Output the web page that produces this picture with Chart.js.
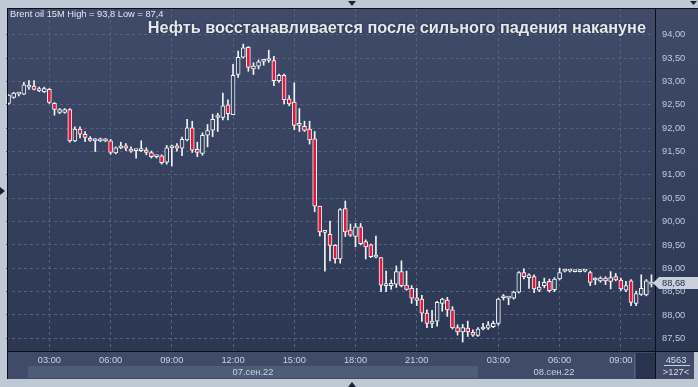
<!DOCTYPE html>
<html>
<head>
<meta charset="utf-8">
<script src="https://cdn.jsdelivr.net/npm/chart.js@4/dist/chart.umd.min.js"></script>
<style>
  html, body { margin: 0; padding: 0; background: #bfc8d5; }
  #wrap { position: relative; width: 698px; height: 387px; overflow: hidden; }
  canvas { position: absolute; left: 0; top: 0; }
  .txt { position: absolute; font-family: "Liberation Sans", Arial, sans-serif; white-space: nowrap; }
  #title { right: 52px; top: 20px; font-size: 16.3px; font-weight: bold; color: #e6e8ec; line-height: 15px;
           text-shadow: 0 0 2px #1e2638; }
  #info { left: 10px; top: 9px; font-size: 9.3px; color: #e2e8f2; line-height: 10px; }
  .day { font-size: 9.3px; color: #c8d3e4; line-height: 10px; transform: translateX(-50%); }
  .cnt { font-size: 9.3px; color: #d6deea; line-height: 10px; transform: translateX(-50%); }
</style>
</head>
<body>
<div id="wrap">
  <canvas id="candleChart" width="698" height="387"></canvas>
  <div class="txt" id="info">Brent oil 15M High = 93,8 Low = 87,4</div>
  <div class="txt" id="title">Нефть восстанавливается после сильного падения накануне</div>
  <div class="txt day" style="left:253px; top:367px;">07.сен.22</div>
  <div class="txt day" style="left:554px; top:367px;">08.сен.22</div>
  <div class="txt cnt" style="left:676px; top:355px;">4563</div>
  <div class="txt cnt" style="left:676px; top:367px;">&gt;127&lt;</div>
</div>
<script>
// 15-minute bars, 07.09 01:00 .. 08.09 10:30
const times = [
  '01:00','01:15','01:30','01:45','02:00','02:15','02:30','02:45','03:00','03:15','03:30','03:45',
  '04:00','04:15','04:30','04:45','05:00','05:15','05:30','05:45','06:00','06:15','06:30','06:45',
  '07:00','07:15','07:30','07:45','08:00','08:15','08:30','08:45','09:00','09:15','09:30','09:45',
  '10:00','10:15','10:30','10:45','11:00','11:15','11:30','11:45','12:00','12:15','12:30','12:45',
  '13:00','13:15','13:30','13:45','14:00','14:15','14:30','14:45','15:00','15:15','15:30','15:45',
  '16:00','16:15','16:30','16:45','17:00','17:15','17:30','17:45','18:00','18:15','18:30','18:45',
  '19:00','19:15','19:30','19:45','20:00','20:15','20:30','20:45','21:00','21:15','21:30','21:45',
  '22:00','22:15','22:30','22:45',
  '01:00','01:15','01:30','01:45','02:00','02:15','02:30','02:45','03:00','03:15','03:30','03:45',
  '04:00','04:15','04:30','04:45','05:00','05:15','05:30','05:45','06:00','06:15','06:30','06:45',
  '07:00','07:15','07:30','07:45','08:00','08:15','08:30','08:45','09:00','09:15','09:30','09:45',
  '10:00','10:15','10:30'
];

const opens = [
  92.53, 92.66, 92.73, 92.73, 92.88, 92.90, 92.80, 92.78, 92.83, 92.53, 92.34, 92.34,
  92.40, 91.73, 91.98, 91.87, 91.78, 91.73, 91.73, 91.73, 91.73, 91.47, 91.58, 91.62,
  91.55, 91.52, 91.52, 91.53, 91.48, 91.39, 91.41, 91.27, 91.58, 91.62, 91.57, 91.75,
  92.01, 91.55, 91.46, 91.85, 91.96, 92.23, 92.23, 92.50, 92.29, 93.15, 93.52, 93.73,
  93.27, 93.33, 93.43, 93.45, 93.45, 93.02, 93.13, 92.63, 92.56, 92.06, 92.04, 91.98,
  91.77, 90.33, 89.77, 89.73, 89.49, 89.20, 90.28, 89.82, 89.68, 89.89, 89.57, 89.50,
  89.24, 89.23, 88.63, 88.63, 88.66, 88.93, 88.64, 88.57, 88.37, 88.34, 88.04, 87.82,
  87.87, 88.25, 88.32, 88.11,
  87.73, 87.64, 87.72, 87.63, 87.56, 87.70, 87.72, 87.75, 87.82, 88.37, 88.36, 88.36,
  88.49, 88.91, 88.80, 88.82, 88.53, 88.63, 88.72, 88.54, 88.77, 88.94, 88.94, 88.93,
  88.93, 88.94, 88.91, 88.75, 88.73, 88.79, 88.72, 88.82, 88.75, 88.53, 88.73, 88.25,
  88.44, 88.43, 88.66
];
const highs = [
  92.72, 92.77, 92.75, 92.98, 93.02, 93.02, 92.88, 92.88, 92.85, 92.55, 92.42, 92.42,
  92.42, 92.03, 92.03, 91.93, 91.82, 91.78, 91.79, 91.78, 91.76, 91.60, 91.70, 91.67,
  91.60, 91.53, 91.73, 91.58, 91.51, 91.41, 91.43, 91.63, 91.64, 91.67, 91.81, 92.19,
  92.15, 91.70, 91.90, 92.08, 92.30, 92.32, 92.75, 92.61, 93.37, 93.65, 93.80, 93.75,
  93.40, 93.46, 93.45, 93.67, 93.54, 93.16, 93.16, 92.70, 92.97, 92.42, 92.15, 92.15,
  91.93, 90.33, 89.77, 90.01, 89.51, 90.28, 90.44, 89.95, 89.96, 89.96, 89.61, 89.52,
  89.69, 89.23, 88.94, 88.75, 89.05, 89.16, 88.94, 88.63, 88.57, 88.42, 88.11, 88.10,
  88.29, 88.36, 88.38, 88.18,
  87.79, 87.80, 87.87, 87.68, 87.73, 87.82, 87.86, 87.87, 88.36, 88.44, 88.37, 88.51,
  88.93, 88.99, 88.88, 88.86, 88.72, 88.79, 88.77, 88.80, 89.00, 88.96, 88.95, 88.95,
  88.97, 88.96, 88.94, 88.80, 88.82, 88.82, 88.93, 88.89, 88.79, 88.72, 88.76, 88.51,
  88.86, 88.76, 88.86
];
const lows = [
  92.51, 92.64, 92.69, 92.72, 92.83, 92.82, 92.78, 92.76, 92.53, 92.28, 92.31, 92.32,
  91.70, 91.71, 91.79, 91.71, 91.72, 91.50, 91.71, 91.71, 91.44, 91.45, 91.56, 91.52,
  91.48, 91.36, 91.50, 91.43, 91.36, 91.36, 91.23, 91.23, 91.19, 91.51, 91.41, 91.73,
  91.48, 91.39, 91.42, 91.60, 91.82, 91.93, 92.18, 92.18, 92.29, 93.09, 93.50, 93.22,
  93.15, 93.27, 93.35, 93.41, 92.91, 92.98, 92.52, 92.48, 91.97, 91.93, 91.93, 91.66,
  90.21, 89.69, 88.94, 89.16, 89.11, 89.11, 89.68, 89.68, 89.46, 89.50, 89.20, 89.23,
  89.22, 88.50, 88.50, 88.55, 88.59, 88.60, 88.53, 88.25, 88.20, 87.86, 87.73, 87.73,
  87.76, 88.08, 87.97, 87.70,
  87.57, 87.42, 87.54, 87.54, 87.54, 87.68, 87.69, 87.73, 87.78, 88.32, 88.22, 88.34,
  88.47, 88.77, 88.57, 88.48, 88.50, 88.58, 88.49, 88.50, 88.75, 88.92, 88.92, 88.92,
  88.92, 88.92, 88.63, 88.65, 88.70, 88.65, 88.56, 88.73, 88.52, 88.50, 88.20, 88.20,
  88.42, 88.41, 88.60
];
const closes = [
  92.71, 92.75, 92.73, 92.93, 92.89, 92.83, 92.85, 92.85, 92.55, 92.40, 92.40, 92.40,
  91.73, 91.98, 91.87, 91.80, 91.74, 91.73, 91.73, 91.73, 91.48, 91.58, 91.58, 91.57,
  91.51, 91.52, 91.52, 91.48, 91.39, 91.39, 91.26, 91.58, 91.58, 91.57, 91.76, 92.01,
  91.53, 91.48, 91.85, 91.95, 92.19, 92.23, 92.48, 92.31, 93.13, 93.52, 93.72, 93.30,
  93.33, 93.42, 93.43, 93.45, 93.02, 93.13, 92.61, 92.52, 92.06, 92.06, 91.95, 91.75,
  90.33, 89.78, 89.77, 89.49, 89.20, 90.26, 89.78, 89.71, 89.89, 89.53, 89.46, 89.25,
  89.24, 88.64, 88.63, 88.68, 88.93, 88.63, 88.55, 88.36, 88.31, 88.04, 87.82, 87.87,
  88.27, 88.34, 88.11, 87.73,
  87.64, 87.73, 87.64, 87.57, 87.70, 87.73, 87.79, 87.82, 88.34, 88.37, 88.36, 88.49,
  88.91, 88.82, 88.86, 88.56, 88.60, 88.70, 88.52, 88.77, 88.91, 88.94, 88.94, 88.94,
  88.96, 88.94, 88.70, 88.75, 88.79, 88.73, 88.80, 88.75, 88.56, 88.63, 88.27, 88.46,
  88.57, 88.73, 88.68
];

const xTickLabels = ['03:00', '06:00', '09:00', '12:00', '15:00', '18:00', '21:00'];
const yTicks = [87.5, 88, 88.5, 89, 89.5, 90, 90.5, 91, 91.5, 92, 92.5, 93, 93.5, 94];
const yMin = 87.229;
const yMax = 94.574;

const RED = '#e3173d';
const HOLLOW = '#35415d';
const EDGE = '#f2f4f8';
const GRID = '#56627e';

function fmt(v) {
  return v.toFixed(2).replace('.', ',');
}

const frame = {
  id: 'frame',
  beforeDraw(chart) {
    const ctx = chart.ctx;
    ctx.save();
    // page
    ctx.fillStyle = '#bfc8d5';
    ctx.fillRect(0, 0, 698, 387);
    // plot + right panel gradient
    const g = ctx.createLinearGradient(0, 8, 0, 352);
    g.addColorStop(0, '#3f4b69');
    g.addColorStop(1, '#2c3753');
    ctx.fillStyle = g;
    ctx.fillRect(7, 8, 691, 344);
    // bottom panel
    ctx.fillStyle = '#3f4b68';
    ctx.fillRect(7, 352, 687, 27);
    // date strip of the first day
    ctx.fillStyle = '#4f5c78';
    ctx.fillRect(28, 366, 450, 12);
    // dark corner box
    ctx.fillStyle = '#283350';
    ctx.fillRect(636, 353, 19, 26);
    ctx.fillStyle = '#56627c';
    ctx.fillRect(634, 354, 1, 24);
    ctx.restore();
  },
  afterDraw(chart) {
    const ctx = chart.ctx;
    const y = chart.scales.y;
    ctx.save();
    // frame lines
    ctx.strokeStyle = '#0b0f18';
    ctx.lineWidth = 1;
    ctx.beginPath();
    ctx.moveTo(7.5, 379); ctx.lineTo(7.5, 8.5); ctx.lineTo(698, 8.5);
    ctx.moveTo(655.5, 8); ctx.lineTo(655.5, 379);
    ctx.moveTo(7, 351.5); ctx.lineTo(698, 351.5);
    ctx.stroke();
    // counter separator
    ctx.strokeStyle = '#c8d0dc';
    ctx.beginPath();
    ctx.moveTo(664, 365.5); ctx.lineTo(690, 365.5);
    ctx.stroke();
    // last price tag
    const last = closes[closes.length - 1];
    const py = Math.round(y.getPixelForValue(last));
    ctx.fillStyle = '#c9d0db';
    ctx.beginPath();
    ctx.moveTo(653, py);
    ctx.lineTo(659, py - 6);
    ctx.lineTo(698, py - 6);
    ctx.lineTo(698, py + 6);
    ctx.lineTo(659, py + 6);
    ctx.closePath();
    ctx.fill();
    ctx.fillStyle = '#1d2b4c';
    ctx.font = '9.3px "Liberation Sans", Arial, sans-serif';
    ctx.textBaseline = 'middle';
    ctx.fillText(fmt(last), 662, py + 0.5);
    // small markers
    ctx.fillStyle = '#1a2236';
    ctx.beginPath();
    ctx.moveTo(348, 1); ctx.lineTo(356, 1); ctx.lineTo(352, 6); ctx.closePath();
    ctx.moveTo(348, 387); ctx.lineTo(356, 387); ctx.lineTo(352, 382); ctx.closePath();
    ctx.moveTo(0, 187); ctx.lineTo(5, 191); ctx.lineTo(0, 195); ctx.closePath();
    ctx.moveTo(690, 1); ctx.lineTo(697, 1); ctx.lineTo(693.5, 5); ctx.closePath();
    ctx.fill();
    ctx.restore();
  }
};

const ctx = document.getElementById('candleChart').getContext('2d');

new Chart(ctx, {
  type: 'bar',
  data: {
    labels: times,
    datasets: [
      {
        label: 'wick',
        data: lows.map((l, i) => [l, highs[i]]),
        backgroundColor: EDGE,
        barThickness: 1,
        grouped: false,
        order: 2
      },
      {
        label: 'body',
        data: opens.map((o, i) => [o, closes[i]]),
        backgroundColor: opens.map((o, i) => closes[i] < o ? RED : HOLLOW),
        borderColor: EDGE,
        borderWidth: 1,
        borderSkipped: false,
        barThickness: 4,
        minBarLength: 2,
        grouped: false,
        order: 1
      }
    ]
  },
  options: {
    responsive: false,
    animation: false,
    devicePixelRatio: 1,
    layout: { padding: { left: 6, top: 8, right: 0, bottom: 7 } },
    plugins: {
      legend: { display: false },
      tooltip: { enabled: false }
    },
    scales: {
      x: {
        type: 'category',
        offset: true,
        afterFit: (scale) => {
          scale.height = 29;
          scale.paddingLeft = 0;
          scale.paddingRight = 0;
        },
        grid: {
          offset: false,
          color: GRID,
          lineWidth: 1,
          drawTicks: false,
          borderDash: [3, 3]
        },
        border: { display: false, dash: [3, 3] },
        ticks: {
          autoSkip: false,
          maxRotation: 0,
          padding: 4,
          color: '#c6d2e4',
          font: { family: '"Liberation Sans", Arial, sans-serif', size: 9.3 },
          callback: function (value, index) {
            const t = times[index];
            return xTickLabels.includes(t) ? t : null;
          }
        }
      },
      y: {
        position: 'right',
        min: yMin,
        max: yMax,
        afterFit: (scale) => {
          scale.width = 44;
          scale.paddingTop = 0;
          scale.paddingBottom = 0;
        },
        afterBuildTicks: (scale) => { scale.ticks = yTicks.map(v => ({ value: v })); },
        grid: {
          color: GRID,
          lineWidth: 1,
          drawTicks: false,
          borderDash: [3, 3]
        },
        border: { display: false, dash: [3, 3] },
        ticks: {
          padding: 8,
          color: '#bccae0',
          font: { family: '"Liberation Sans", Arial, sans-serif', size: 9.3 },
          callback: (v) => fmt(v)
        }
      }
    }
  },
  plugins: [frame]
});
</script>
</body>
</html>
